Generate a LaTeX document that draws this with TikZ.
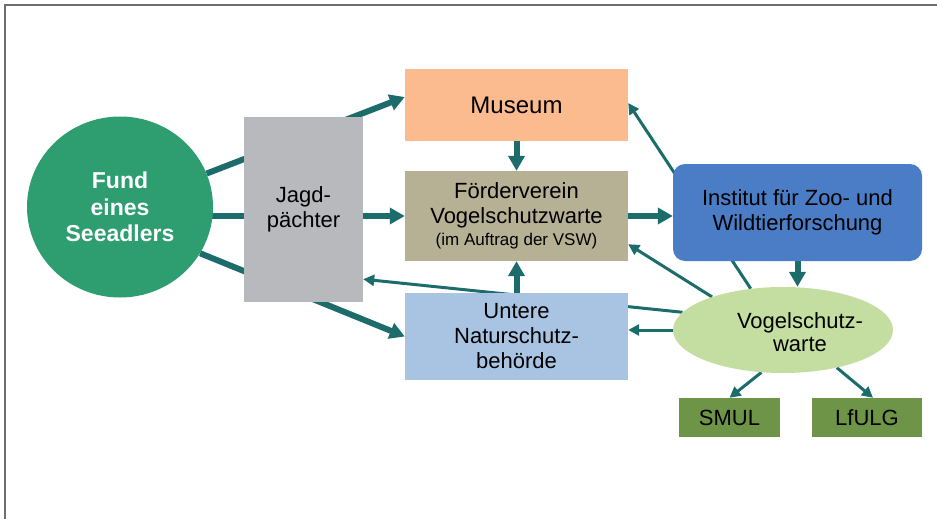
\documentclass[tikz,border=0pt]{standalone}
\usepackage{fontspec}
\setmainfont{Liberation Sans}
\usetikzlibrary{arrows.meta,shapes.geometric,backgrounds,calc}
\definecolor{arrteal}{RGB}{28,108,108}
\definecolor{fundgreen}{RGB}{46,157,112}
\definecolor{jagdgray}{RGB}{184,185,188}
\definecolor{museumcol}{RGB}{251,187,142}
\definecolor{foerdercol}{RGB}{182,176,148}
\definecolor{unterecol}{RGB}{169,196,227}
\definecolor{institutcol}{RGB}{74,125,198}
\definecolor{vswcol}{RGB}{195,222,160}
\definecolor{smulcol}{RGB}{110,148,72}
\definecolor{framecol}{RGB}{110,110,110}
\begin{document}
\begin{tikzpicture}[x=1pt,y=-1pt,
  box/.style={rectangle, inner sep=0pt, align=center, font=\fontsize{22}{25}\selectfont},
  thickarr/.style={draw=arrteal, line width=6pt, -{Triangle[length=15pt,width=16pt]}},
  thinarr/.style={draw=arrteal, line width=3pt, -{Triangle[length=11pt,width=11pt]}}]
\useasboundingbox (0,0) rectangle (937,519);
\draw[framecol, line width=1.3pt] (5,519) -- (5,5) -- (937,5);

\node[ellipse, fill=fundgreen, minimum width=186pt, minimum height=181pt, inner sep=0pt,
  text=white, align=center, font=\bfseries\fontsize{23}{26.5}\selectfont] (fund) at (120,207) {Fund\\eines\\Seeadlers};
\node[box, fill=jagdgray, minimum width=119pt, minimum height=185pt] (jagd) at (303.5,209.5) {Jagd-\\pächter};
\node[box, fill=museumcol, minimum width=223pt, minimum height=72pt, font=\fontsize{24}{28}\selectfont] (museum) at (516.5,105) {Museum};
\node[box, fill=foerdercol, minimum width=223pt, minimum height=90pt] (foerder) at (516.5,216)
  {Förderverein\\Vogelschutzwarte\\[-3pt]{\fontsize{17}{20}\selectfont(im Auftrag der VSW)}};
\node[box, fill=unterecol, minimum width=223pt, minimum height=87pt] (untere) at (516.5,336.5) {Untere\\Naturschutz-\\behörde};
\node[box, fill=institutcol, rounded corners=12pt, minimum width=249pt, minimum height=97pt] (institut) at (797.5,212.5) {Institut für Zoo- und\\Wildtierforschung};
\node[ellipse, fill=vswcol, minimum width=220pt, minimum height=86pt, inner sep=0pt] (vsw) at (783,330) {};
\node[box, font=\fontsize{22}{23}\selectfont] (vswtext) at (800,332) {Vogelschutz-\\warte};
\node[box, fill=smulcol, minimum width=101pt, minimum height=39pt] (smul) at (729.5,417.5) {SMUL};
\node[box, fill=smulcol, minimum width=110pt, minimum height=39pt] (lfulg) at (867,417.5) {LfULG};

\begin{pgfonlayer}{background}
\draw[thickarr] (fund) -- ($(museum.west)+(0,-8)$);
\draw[thickarr] (fund.center |- foerder.west) -- (foerder.west);
\draw[thickarr] (fund.-30) -- (untere.west);
\draw[thinarr] (vsw.170) -- ($(jagd.south east)+(0,-23)$);
\draw[thinarr] (vsw.west) -- (vsw.west -| untere.east);
\draw[thickarr] (untere.north) -- (foerder.south);
\draw[thickarr] (museum.south) -- (foerder.north);
\draw[thickarr] (foerder.east) -- (foerder.east -| institut.west);
\draw[thinarr] (vsw.155) -- ($(foerder.south east)+(0,-17)$);
\draw[thinarr] (vsw.128) -- ($(museum.east)+(0,-2)$);
\draw[thickarr] (institut.south) -- (institut.south |- vsw.north);
\draw[thinarr] (vsw.-117) -- (smul.north);
\draw[thinarr] (vsw.-35) -- ($(lfulg.north)+(6,0)$);
\end{pgfonlayer}
\end{tikzpicture}
\end{document}
